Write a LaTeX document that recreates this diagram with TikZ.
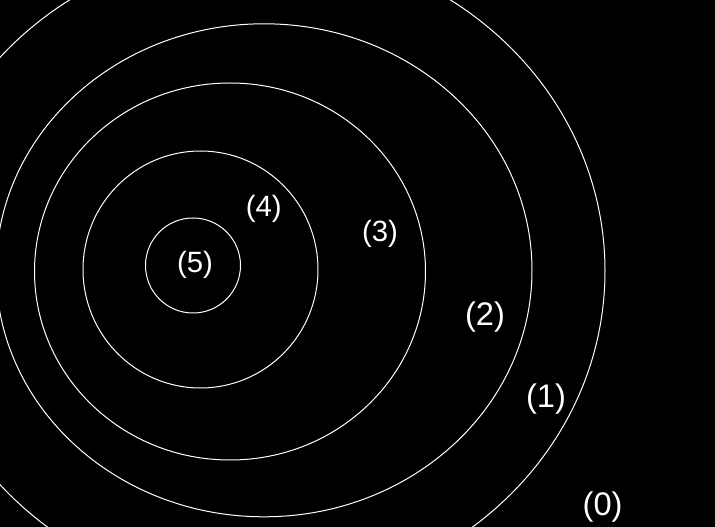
\documentclass[tikz,border=0pt]{standalone}
\usepackage{fontspec}
\setmainfont{Liberation Sans}
\usepackage{xcolor}
\usepackage{tikz}

\begin{document}
\begin{tikzpicture}[x=0.75pt,y=0.75pt,yscale=-1,xscale=1,
  ring/.style={draw=white,line width=0.75},
  lbl/.style={text=white,inner sep=0pt,anchor=center,font=\fontsize{22}{26}\selectfont},
  lblbig/.style={lbl,font=\fontsize{24.5}{29}\selectfont}]
%set diagram to 715 x 527, black ground
\useasboundingbox (0,0) rectangle (715,527);
\fill[black] (0,0) rectangle (715,527);
\clip (0,0) rectangle (715,527);

%Shape: Ellipse [level 5]
\draw [ring] (193,265.5) ellipse [x radius=47.5, y radius=47.5];
%Shape: Ellipse [level 4]
\draw [ring] (200.5,269.5) ellipse [x radius=117.5, y radius=118.5];
%Shape: Ellipse [level 3]
\draw [ring] (230,271.5) ellipse [x radius=195.5, y radius=188.5];
%Shape: Ellipse [level 2]
\draw [ring] (264,270.3) ellipse [x radius=268, y radius=246.5];
%Shape: Ellipse [level 1]
\draw [ring] (260,271) ellipse [x radius=345, y radius=325];

% Text Node
\node [lbl] (n5) at (195,265) {(5)};
% Text Node
\node [lbl] (n4) at (263.7,209) {(4)};
% Text Node
\node [lbl] (n3) at (380,234) {(3)};
% Text Node
\node [lblbig] (n2) at (485,317.5) {(2)};
% Text Node
\node [lblbig] (n1) at (546,399) {(1)};
% Text Node
\node [lblbig] (n0) at (602.6,507.5) {(0)};

\end{tikzpicture}
\end{document}
